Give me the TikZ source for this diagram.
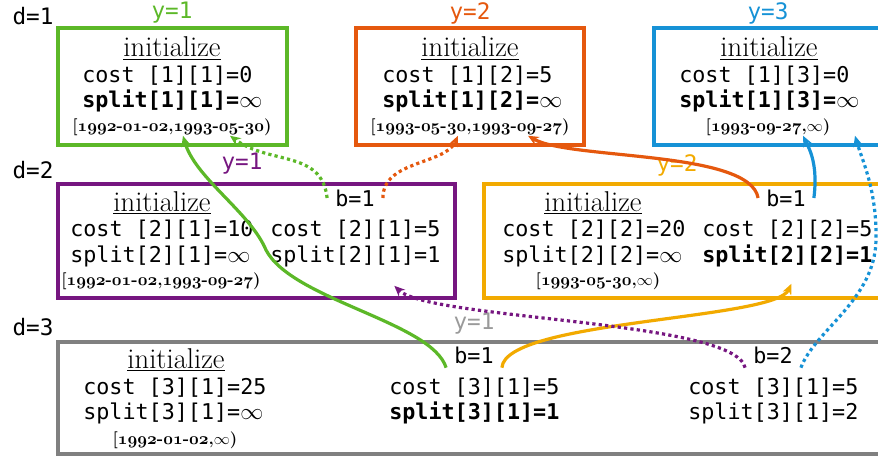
\documentclass[tikz,border=0pt]{standalone}
\usepackage{fontspec}
\setmonofont{DejaVu Sans Mono}
\usetikzlibrary{arrows.meta,calc,positioning}
\definecolor{ygreen}{RGB}{92,184,40}
\definecolor{yorange}{RGB}{229,88,14}
\definecolor{yblue}{RGB}{22,146,214}
\definecolor{ypurple}{RGB}{118,22,128}
\definecolor{yamber}{RGB}{242,170,0}
\definecolor{ygray}{RGB}{128,128,128}

% old style digits for the date ranges
\DeclareFontFamily{OML}{osd}{\skewchar\font=127}
\DeclareFontShape{OML}{osd}{b}{it}{<->cmmib10}{}
\newcommand{\osn}[1]{{\usefont{OML}{osd}{b}{it}#1}}
\newcommand{\dte}[3]{\osn{#1}-\osn{#2}-\osn{#3}}

\begin{document}
\begin{tikzpicture}[x=0.75pt, y=-0.75pt,
    panel/.style={draw, line width=2.5pt},
    init/.style={inner sep=0pt, font=\fontsize{21.5}{24}\selectfont},
    vals/.style={inner sep=0pt, anchor=west, align=left, font=\ttfamily\fontsize{16.3}{18.8}\selectfont},
    datespan/.style={inner sep=0pt, font=\bfseries\fontsize{12.7}{15}\selectfont},
    lvl/.style={inner sep=0pt, font=\ttfamily\fontsize{17}{20}\selectfont},
    bval/.style={inner xsep=6pt, inner ysep=3pt, font=\ttfamily\fontsize{16.3}{18.8}\selectfont},
    link/.style={-{Stealth[length=8pt,width=7pt]}, line width=2.4pt},
    hint/.style={link, dash pattern=on 2.4pt off 2.4pt}]

\useasboundingbox (0,0) rectangle (878,459);

% levels
\node[lvl] (dep1) at (33,16) {d=1};
\node[lvl] (dep2) at (33,170) {d=2};
\node[lvl] (dep3) at (33,327.5) {d=3};

% d=1
\draw[panel, ygreen] (58,28) rectangle (287,145);
\node[lvl, ygreen] (y11) at (172,13) {y=1};
\node[init] (i11) at (172,48.5) {\underline{initialize}};
\node[vals] (v11) at (82,89) {cost [1][1]=0\\\textbf{split[1][1]=}$\infty$};
\node[datespan] (d11) at (172,127) {[\dte{1992}{01}{02},\dte{1993}{05}{30})};

\draw[panel, yorange] (356,28) rectangle (584,145);
\node[lvl, yorange] (y12) at (470,13) {y=2};
\node[init] (i12) at (470,48.5) {\underline{initialize}};
\node[vals] (v12) at (382,89) {cost [1][2]=5\\\textbf{split[1][2]=}$\infty$};
\node[datespan] (d12) at (470,127) {[\dte{1993}{05}{30},\dte{1993}{09}{27})};

\draw[panel, yblue] (654,28) rectangle (892,145);
\node[lvl, yblue] (y13) at (768,13) {y=3};
\node[init] (i13) at (769,48.5) {\underline{initialize}};
\node[vals] (v13) at (679,89) {cost [1][3]=0\\\textbf{split[1][3]=}$\infty$};
\node[datespan] (d13) at (768,127) {[\dte{1993}{09}{27},$\infty$)};

% d=2
\draw[panel, ypurple] (58,184) rectangle (455,298);
\node[lvl, ypurple] (y21) at (242,164) {y=1};
\node[init] (i21) at (162,203) {\underline{initialize}};
\node[vals] (v21) at (70,243.5) {cost [2][1]=10\\split[2][1]=$\infty$};
\node[datespan] (d21) at (161,281) {[\dte{1992}{01}{02},\dte{1993}{09}{27})};
\node[bval] (b21) at (355,198) {b=1};
\node[vals] (v21r) at (270,243.5) {cost [2][1]=5\\split[2][1]=1};

\draw[panel, yamber] (484,184) rectangle (892,298);
\node[lvl, yamber] (y22) at (677,165) {y=2};
\node[init] (i22) at (593,203) {\underline{initialize}};
\node[vals] (v22) at (502,243.5) {cost [2][2]=20\\split[2][2]=$\infty$};
\node[datespan] (d22) at (598,281) {[\dte{1993}{05}{30},$\infty$)};
\node[bval] (b22) at (786,198) {b=1};
\node[vals] (v22r) at (702,243.5) {cost [2][2]=5\\\textbf{split[2][2]=1}};

% d=3
\draw[panel, ygray] (58,342) rectangle (892,454);
\node[lvl, ygray!80] (y31) at (474,323.5) {y=1};
\node[init] (i31) at (176,360) {\underline{initialize}};
\node[vals] (v31) at (83,401) {cost [3][1]=25\\split[3][1]=$\infty$};
\node[datespan] (d31) at (175,440) {[\dte{1992}{01}{02},$\infty$)};
\node[bval] (b31) at (474,355) {b=1};
\node[vals] (v31m) at (389,401) {cost [3][1]=5\\\textbf{split[3][1]=1}};
\node[bval] (b32) at (773,355) {b=2};
\node[vals] (v31r) at (688,401) {cost [3][1]=5\\split[3][1]=2};

% back links
\draw[link, ygreen] (b31.south west) .. controls (432,322) and (292,300) .. (266,250)
    .. controls (250,212) and (195,178) .. ($(d11.south)+(11,0)$);
\draw[hint, ygreen] (b21.west) .. controls (322,150) and (270,165) .. ($(d11.south)+(58,0)$);
\draw[hint, yorange] (b21.east) .. controls (383,160) and (445,165) .. ($(d12.south)+(-12,0)$);
\draw[link, yorange] (b22.west) .. controls (750,150) and (570,160) .. ($(d12.south)+(58,0)$);
\draw[link, yblue] (b22.east) .. controls (818,165) and (810,150) .. ($(d13.south)+(35,0)$);
\draw[hint, yblue] (b32.south east) .. controls (815,330) and (875,300) .. (876,240)
    .. controls (877,190) and (862,160) .. ($(d13.south)+(87,0)$);
\draw[link, yamber] (b31.south east) .. controls (505,320) and (775,320) .. ($(v22r.south)+(4,17)$);
\draw[hint, ypurple] (b32.south west) .. controls (735,320) and (430,320) .. ($(v21r.south)+(39,19)$);

\end{tikzpicture}
\end{document}
